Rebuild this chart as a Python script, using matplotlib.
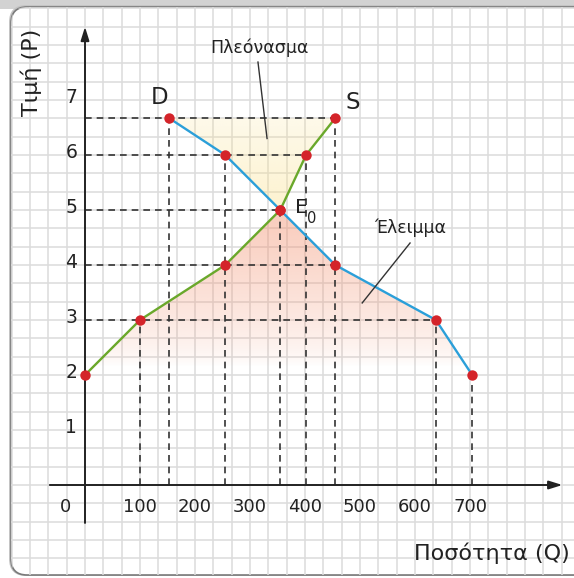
import numpy as np
import matplotlib
matplotlib.use('Agg')
import matplotlib.pyplot as plt
from matplotlib.patches import FancyBboxPatch, Polygon, Rectangle

# Daten
q_supply = [0, 100, 255, 355, 402, 455]
p_supply = [2, 3, 4, 5, 6, 6.67]
q_demand = [153, 255, 355, 455, 638, 704]
p_demand = [6.67, 6, 5, 4, 3, 2]
equilibrium = (355, 5)

x_ticks = [100, 200, 300, 400, 500, 600, 700]
x_tick_labels = ['100', '200', '300', '400', '500', '600', '700']
y_ticks = [1, 2, 3, 4, 5, 6, 7]
y_tick_labels = ['1', '2', '3', '4', '5', '6', '7']

# Figur: Achsen füllen das ganze Bild, 55 px pro Einheit
fig = plt.figure(figsize=(5.74, 5.78), dpi=100)
ax = fig.add_axes([0, 0, 1, 1])
xlim = (-85 / 0.55, (574 - 85) / 0.55)
ylim = ((485 - 578) / 55, 485 / 55)
ax.set_axis_off()

# Rahmen mit Schatten
ax.add_patch(Rectangle((0, 1 - 9 / 578), 1, 9 / 578, transform=ax.transAxes,
                       facecolor='#d2d2d2', edgecolor='none', zorder=0))
shadow = FancyBboxPatch((9 / 574, 2 / 578), 620 / 574, 571 / 578,
                        boxstyle='round,pad=0,rounding_size=0.03',
                        transform=ax.transAxes, facecolor='#c4c4c4',
                        edgecolor='none', zorder=0)
ax.add_patch(shadow)
panel = FancyBboxPatch((11 / 574, 3 / 578), 620 / 574, 568 / 578,
                       boxstyle='round,pad=0,rounding_size=0.028',
                       transform=ax.transAxes, facecolor='white',
                       edgecolor='#7a7a7a', lw=1.2, zorder=0.5)
ax.add_patch(panel)

# Kariertes Papier
for q in np.arange(-5, 28) * 100 / 3:
    ln = ax.axvline(q, color='#dcdcdc', lw=1.15, zorder=1)
    ln.set_clip_path(panel)
for p in np.arange(-6, 27) / 3:
    ln = ax.axhline(p, color='#dcdcdc', lw=1.15, zorder=1)
    ln.set_clip_path(panel)

# Flächen: Überschuss (gelb) und Mangel (rosa)
d_top = [(q, p) for q, p in zip(q_demand, p_demand) if p >= 5]
s_top = [(q, p) for q, p in zip(q_supply, p_supply) if p >= 5]
d_low = [(q, p) for q, p in zip(q_demand, p_demand) if p <= 5]
s_low = [(q, p) for q, p in zip(q_supply, p_supply) if p <= 5]
top_pts = d_top + s_top
low_pts = s_low + d_low

poly_top = Polygon(top_pts, closed=True, facecolor='none', edgecolor='none')
poly_low = Polygon(low_pts, closed=True, facecolor='none', edgecolor='none')
ax.add_patch(poly_top)
ax.add_patch(poly_low)

n = 200
pv = np.linspace(2, 5.05, n)
img = np.zeros((n, 1, 4))
img[..., :3] = np.array([244, 150, 118]) / 255
img[:, 0, 3] = 0.46 * np.clip((pv - 2.15) / 2.6, 0, 1) ** 0.7
im = ax.imshow(img, extent=[0, 720, 2, 5.05], origin='lower', aspect='auto',
               interpolation='bilinear', zorder=2)
im.set_clip_path(poly_low)

pv2 = np.linspace(4.95, 6.7, n)
img2 = np.zeros((n, 1, 4))
img2[..., :3] = np.array([250, 225, 140]) / 255
img2[:, 0, 3] = 0.42 - 0.24 * (pv2 - 4.95) / 1.75
im2 = ax.imshow(img2, extent=[140, 470, 4.95, 6.7], origin='lower', aspect='auto',
                interpolation='bilinear', zorder=2)
im2.set_clip_path(poly_top)

# Hilfslinien gestrichelt
all_q = q_supply + q_demand
all_p = p_supply + p_demand
dash = dict(color='#333333', lw=1.2, ls=(0, (4, 3)), zorder=3)
for p in sorted(set(all_p)):
    if p <= 2:
        continue
    qmax = max(q for q, pp in zip(all_q, all_p) if pp == p)
    ax.plot([0, qmax], [p, p], **dash)
for q in sorted(set(all_q)):
    if q == 0:
        continue
    pmax = max(pp for qq, pp in zip(all_q, all_p) if qq == q)
    ax.plot([q, q], [0, pmax], **dash)

# Achsen mit Pfeilen
arr = dict(arrowstyle='-|>,head_length=0.8,head_width=0.25', color='#222222',
           lw=1.4, shrinkA=0, shrinkB=0)
ax.annotate('', xy=(868, 0), xytext=(-64, 0), arrowprops=arr, zorder=3)
ax.annotate('', xy=(0, 8.33), xytext=(0, -0.69), arrowprops=arr, zorder=3)

# Kurven und Punkte
ax.plot(q_demand, p_demand, color='#2b9fd9', lw=1.7, zorder=4)
ax.plot(q_supply, p_supply, color='#6aa82b', lw=1.7, zorder=4)
ax.plot(all_q, all_p, 'o', color='#d4242a', ms=7.5, mec='none', zorder=5)

# Beschriftungen
tc = '#222222'
for q, lab in zip(x_ticks, x_tick_labels):
    ax.text(q, -0.4, lab, ha='center', va='center', fontsize=13, color=tc)
ax.text(-36, -0.4, '0', ha='center', va='center', fontsize=13, color=tc)
for p, lab in zip(y_ticks, y_tick_labels):
    ax.text(-25, p + 0.04, lab, ha='center', va='center', fontsize=13.5, color=tc)

ax.text(-98, 7.5, 'Τιμή (P)', rotation=90, ha='center', va='center',
        fontsize=16, color=tc)
ax.text((570 - 85) / 0.55, (485 - 553) / 55, 'Ποσότητα (Q)', ha='right',
        va='center', fontsize=16, color=tc)

ax.text(136, 7.05, 'D', ha='center', va='center', fontsize=16.5, color=tc)
ax.text(486, 6.95, 'S', ha='center', va='center', fontsize=16.5, color=tc)
ax.text(393, 5.045, 'E', ha='center', va='center', fontsize=14.5, color=tc)
ax.text(413, 4.85, '0', ha='center', va='center', fontsize=10.5, color=tc)

ax.text(317, 7.95, 'Πλεόνασμα', ha='center', va='center', fontsize=12.5, color=tc)
ax.plot([314.5, 331], [7.69, 6.3], color='#333333', lw=1, zorder=6)
ax.text(591, 4.67, 'Έλειμμα', ha='center', va='center', fontsize=12.5, color=tc)
ax.plot([591, 504], [4.4, 3.31], color='#333333', lw=1, zorder=6)

ax.set_xlim(*xlim)
ax.set_ylim(*ylim)

plt.savefig('out.png', dpi=100)
